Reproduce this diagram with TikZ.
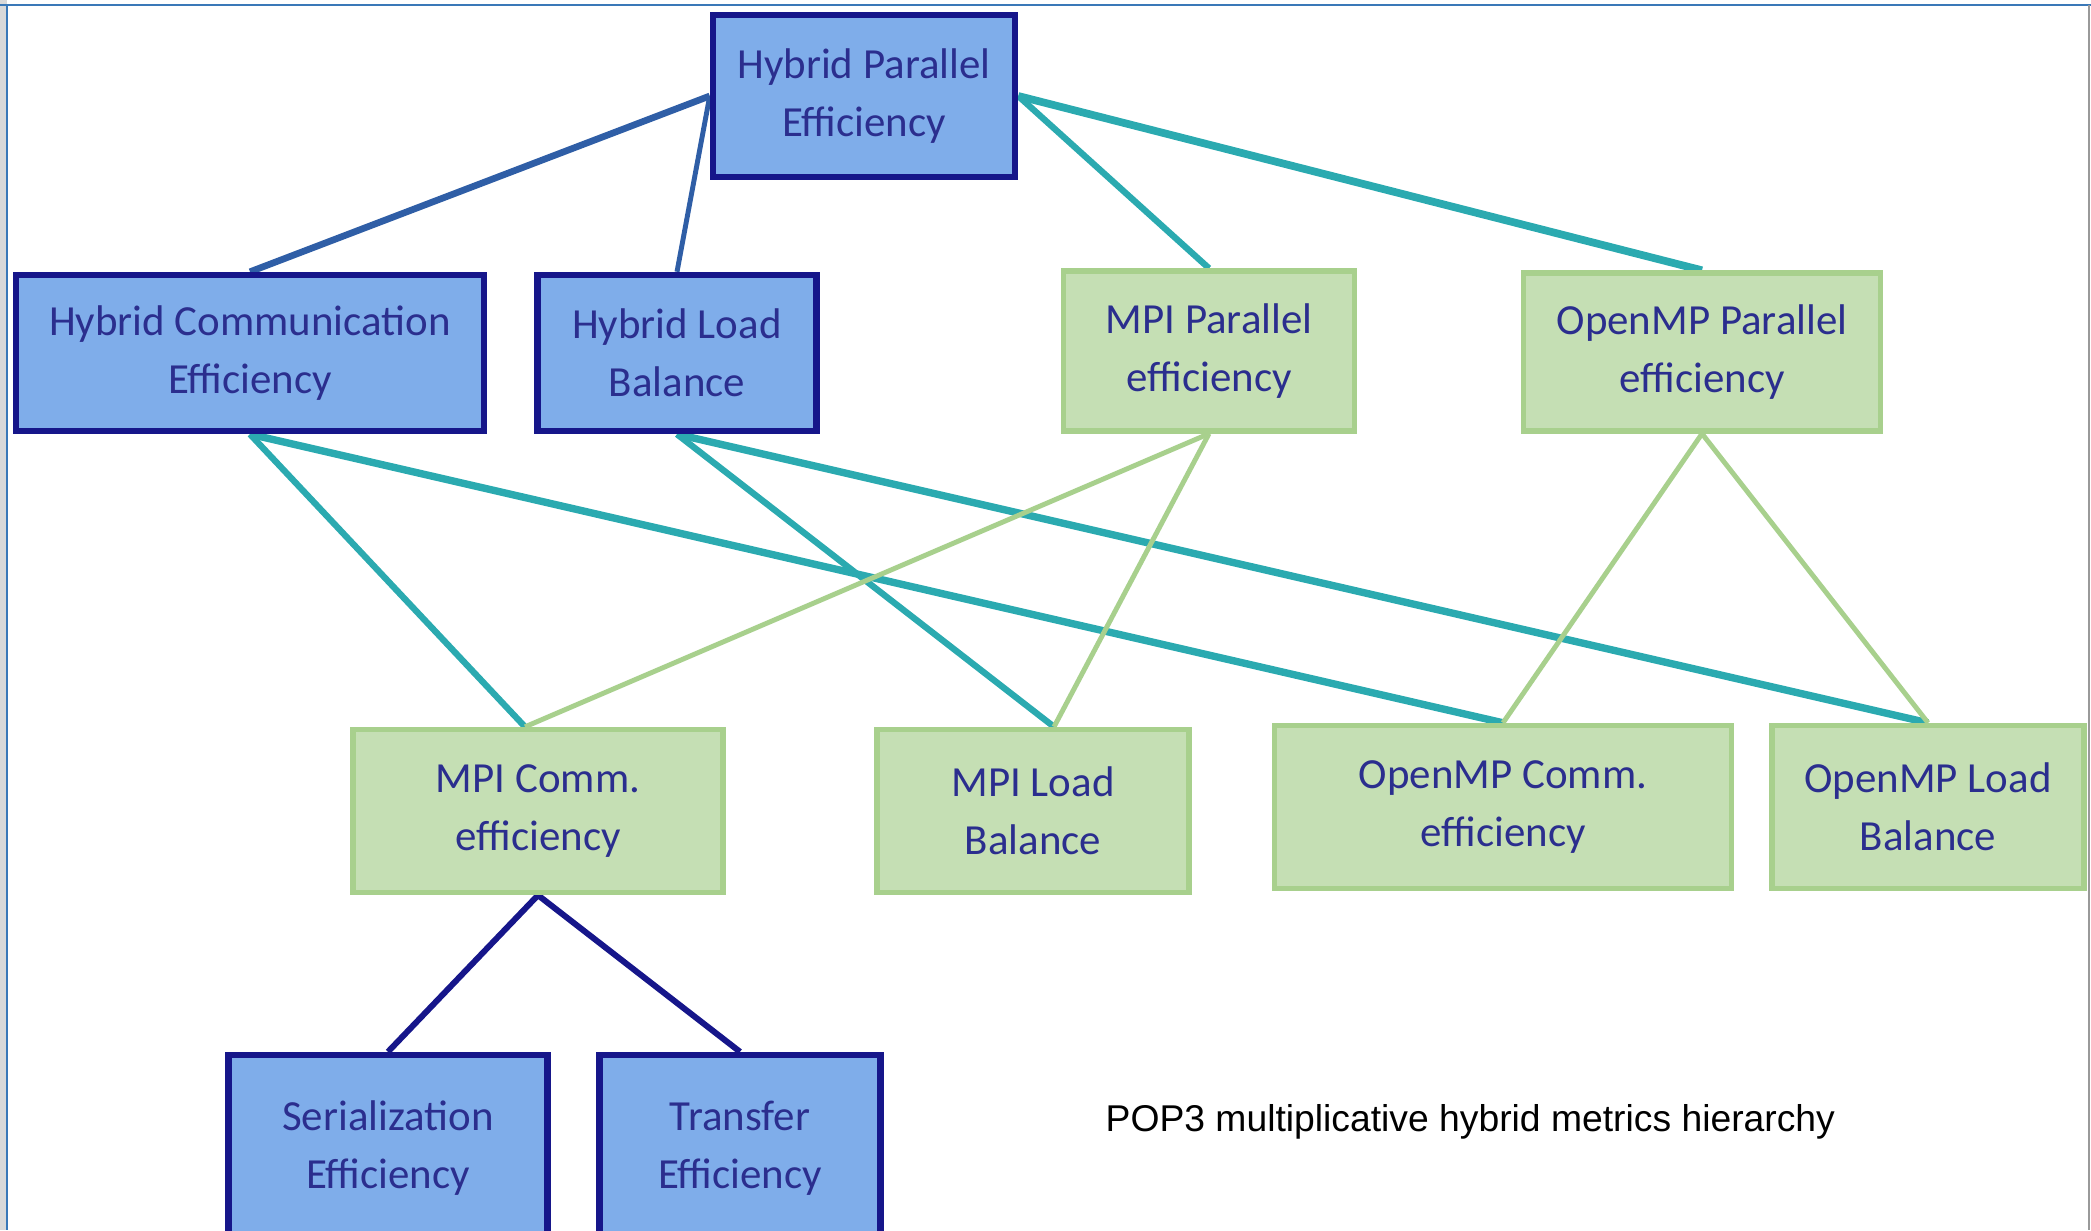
\documentclass[tikz,border=0pt]{standalone}
\usepackage{fontspec}
\setmainfont{Carlito}
\newfontfamily\capfont{Liberation Sans}
\usepackage{xcolor}
\usepackage{tikz}
\usetikzlibrary{positioning,backgrounds}
\definecolor{hybfill}{HTML}{7FADEA}
\definecolor{navy}{HTML}{16168A}
\definecolor{labelnavy}{HTML}{2B2E8E}
\definecolor{mpifill}{HTML}{C5DFB4}
\definecolor{mpiedge}{HTML}{A8D08D}
\definecolor{teal}{HTML}{2BAAB0}
\definecolor{steel}{HTML}{2F5EA6}
\definecolor{frame}{HTML}{3A78B8}

\begin{document}
\begin{tikzpicture}[x=0.01cm, y=-0.01cm,
    box/.style={rectangle,inner sep=0pt,align=center,text=labelnavy,font=\fontsize{12.2}{16.4}\selectfont},
    hybbox/.style={box,fill=hybfill,draw=navy,line width=1.8pt},
    mpibox/.style={box,fill=mpifill,draw=mpiedge,line width=1.5pt},
    hybline/.style={steel,line width=1.7pt},
    tealline/.style={teal,line width=1.8pt},
    greenline/.style={mpiedge,line width=1.4pt},
    navyline/.style={navy,line width=1.7pt}]
  \useasboundingbox (0,0) rectangle (2091,1230);
  \clip (0,0) rectangle (2091,1230);
  % screen edge
  \fill[black!15] (0,0) rectangle (7,1230);
  \draw[frame,line width=0.5pt] (0,5) -- (2091,5);
  \draw[frame,line width=0.5pt] (7,5) -- (7,1230);
  \draw[black!40,line width=0.5pt] (2089,5) -- (2089,1230);

  % top level
  \node[hybbox,minimum width=3.02cm,minimum height=1.62cm] (hpe) at (864,96) {Hybrid Parallel\\Efficiency};

  % second level
  \node[hybbox,minimum width=4.68cm,minimum height=1.56cm] (hce) at (250,353) {Hybrid Communication\\Efficiency};
  \node[hybbox,minimum width=2.79cm,minimum height=1.56cm] (hlb) at (677,353) {Hybrid Load\\Balance};
  \node[mpibox,minimum width=2.91cm,minimum height=1.6cm] (mpar) at (1209,351) {MPI Parallel\\efficiency};
  \node[mpibox,minimum width=3.57cm,minimum height=1.58cm] (opar) at (1702,352) {OpenMP Parallel\\efficiency};

  % third level
  \node[mpibox,minimum width=3.7cm,minimum height=1.63cm] (mcomm) at (538,811) {MPI Comm.\\efficiency};
  \node[mpibox,minimum width=3.12cm,minimum height=1.63cm] (mlb) at (1033,811) {MPI Load\\Balance};
  \node[mpibox,minimum width=4.57cm,minimum height=1.63cm] (ocomm) at (1503,807) {OpenMP Comm.\\efficiency};
  \node[mpibox,minimum width=3.12cm,minimum height=1.63cm] (olb) at (1928,807) {OpenMP Load\\Balance};

  % fourth level
  \node[hybbox,minimum width=3.19cm,minimum height=1.86cm] (ser) at (388,1148) {Serialization\\Efficiency};
  \node[hybbox,minimum width=2.81cm,minimum height=1.86cm] (tra) at (740,1148) {Transfer\\Efficiency};

  \node[font=\capfont\fontsize{10.6}{13}\selectfont,anchor=west,inner sep=0pt] (cap) at (1105,1122) {POP3 multiplicative hybrid metrics hierarchy};

  \begin{scope}[on background layer]
    \draw[hybline,line width=1.9pt] (hpe.west) -- (hce.north);
    \draw[hybline,line width=1.4pt] (hpe.west) -- (hlb.north);
    \draw[tealline] (hpe.east) -- (mpar.north);
    \draw[tealline,line width=2.2pt] (hpe.east) -- (opar.north);
    \draw[tealline] (hce.south) -- ([xshift=-0.13cm]mcomm.north);
    \draw[tealline,line width=2.1pt] (hce.south) -- (ocomm.north);
    \draw[tealline] (hlb.south) -- ([xshift=0.21cm]mlb.north);
    \draw[tealline,line width=2.1pt] (hlb.south) -- (olb.north);
    \draw[greenline] (mpar.south) -- ([xshift=-0.13cm]mcomm.north);
    \draw[greenline] (mpar.south) -- ([xshift=0.21cm]mlb.north);
    \draw[greenline] (opar.south) -- (ocomm.north);
    \draw[greenline] (opar.south) -- (olb.north);
    \draw[navyline] (mcomm.south) -- (ser.north);
    \draw[navyline] (mcomm.south) -- (tra.north);
  \end{scope}
\end{tikzpicture}
\end{document}
